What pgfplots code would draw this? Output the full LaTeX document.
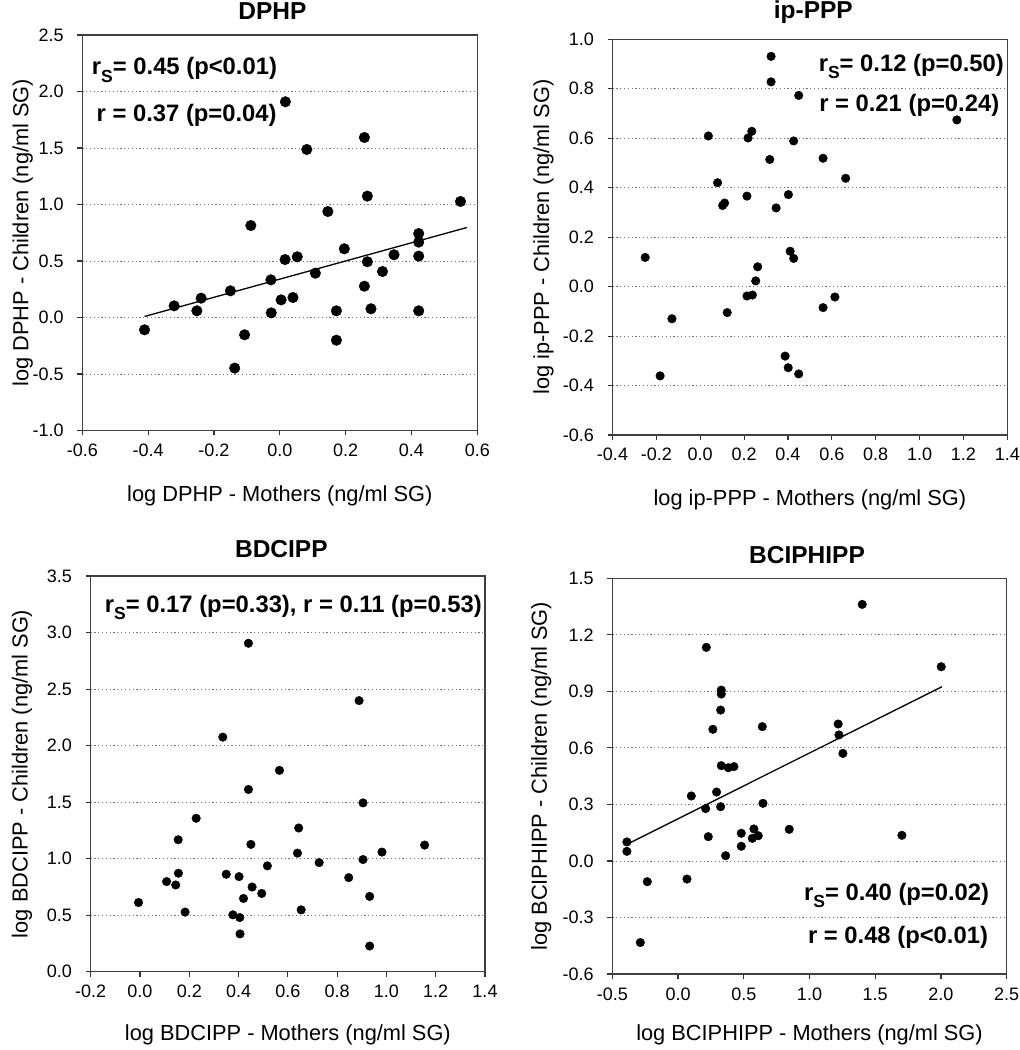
\documentclass[border=0pt]{standalone}
\usepackage{fontspec}
\setmainfont{Liberation Sans}
\usepackage{pgfplots}
\pgfplotsset{compat=1.18}
\newcommand{\rs}{r\raisebox{-0.3em}{\fontsize{17.5}{17.5}\selectfont S}}
\tikzset{ann/.style={font=\fontsize{23.8}{23.8}\selectfont\bfseries, inner sep=0pt}}
\pgfplotsset{
  every axis title shift=0pt,
  panel/.style={
    scale only axis, width=395pt, height=395.5pt, anchor=south west,
    axis line style={black!75, line width=1.2pt},
    tick align=outside, major tick length=5pt,
    tick style={black!80, line width=1.1pt},
    xtick pos=bottom, ytick pos=left,
    ymajorgrids, major grid style={black!55, line width=0.9pt, dash pattern=on 1.2pt off 2.6pt},
    /pgf/number format/assume math mode=true,
    /pgf/number format/.cd, fixed, fixed zerofill, precision=1, /pgfplots/.cd,
    tick label style={font=\fontsize{18}{18}\selectfont},
    xticklabel style={anchor=base, yshift=-21pt},
    yticklabel style={anchor=east, inner sep=0pt, xshift=-13.5pt},
    label style={font=\fontsize{21.8}{21.8}\selectfont},
    title style={font=\fontsize{24.5}{24.5}\selectfont\bfseries, anchor=base, yshift=0pt, inner sep=0pt},
    clip=false,
  },
  dots/.style={only marks, mark=*, mark size=#1, mark options={fill=black, draw=black}},
  fit/.style={no marks, black, line width=1.3pt},
}
\begin{document}
\begin{tikzpicture}
\useasboundingbox (0pt,0pt) rectangle (1020pt,1050pt);
% ---------- DPHP ----------
\begin{axis}[panel, at={(82.3pt,619.5pt)},
  xmin=-0.6, xmax=0.6, ymin=-1, ymax=2.5,
  xtick={-0.6,-0.4,...,0.61}, ytick={-1,-0.5,...,2.51},
  title={DPHP}, title style={at={(axis description cs:0.4815,1.040)}},
  xlabel={log DPHP - Mothers (ng/ml SG)},
  xlabel style={at={(axis description cs:0.5,-0.179)}, anchor=base},
  ylabel={log DPHP - Children (ng/ml SG)},
  ylabel style={at={(axis description cs:-0.151,0.5)}, anchor=center},
]
\addplot[dots=5.3pt] coordinates {
(-0.411,-0.109) (-0.321,0.103) (-0.252,0.059) (-0.239,0.171) (-0.150,0.236)
(-0.088,0.814) (-0.107,-0.153) (-0.137,-0.448) (-0.027,0.333) (-0.026,0.041)
(0.004,0.156) (0.016,0.513) (0.017,1.909) (0.040,0.177) (0.053,0.537)
(0.082,1.487) (0.108,0.392) (0.146,0.938) (0.172,0.059) (0.172,-0.201)
(0.196,0.608) (0.257,1.593) (0.257,0.277) (0.266,1.074) (0.266,0.493)
(0.277,0.077) (0.312,0.407) (0.347,0.555) (0.422,0.743) (0.422,0.667)
(0.422,0.543) (0.422,0.059) (0.549,1.027)
};
\addplot[fit] coordinates {(-0.411,0.009) (0.568,0.796)};
\node[ann, anchor=base west] at (axis description cs:0.024,0.899) {\rs= 0.45 (p<0.01)};
\node[ann, anchor=base west] at (axis description cs:0.036,0.781) {r = 0.37 (p=0.04)};
\end{axis}
% ---------- ip-PPP ----------
\begin{axis}[panel, at={(612.5pt,615pt)}, width=394.8pt, height=395.7pt,
  xmin=-0.4, xmax=1.4, ymin=-0.6, ymax=1.0,
  xtick={-0.4,-0.2,...,1.41}, ytick={-0.6,-0.4,...,1.01},
  title={ip-PPP}, title style={at={(axis description cs:0.5086,1.053)}},
  xlabel={log ip-PPP - Mothers (ng/ml SG)},
  xlabel style={at={(axis description cs:0.5,-0.177)}, anchor=base},
  ylabel={log ip-PPP - Children (ng/ml SG)},
  ylabel style={at={(axis description cs:-0.175,0.5)}, anchor=center},
]
\addplot[dots=4.3pt] coordinates {
(-0.251,0.118) (-0.183,-0.361) (-0.129,-0.130) (0.037,0.609) (0.079,0.420)
(0.102,0.328) (0.111,0.338) (0.123,-0.105) (0.213,0.366) (0.218,0.601)
(0.235,0.628) (0.213,-0.038) (0.238,-0.034) (0.253,0.023) (0.262,0.080)
(0.317,0.514) (0.323,0.931) (0.323,0.828) (0.346,0.318) (0.387,-0.281)
(0.401,-0.328) (0.402,0.372) (0.410,0.143) (0.426,0.589) (0.426,0.114)
(0.449,-0.353) (0.449,0.773) (0.560,0.519) (0.560,-0.085) (0.614,-0.042)
(0.663,0.438) (1.170,0.674)
};
\node[ann, anchor=base east] at (axis description cs:0.9916,0.918) {\rs= 0.12 (p=0.50)};
\node[ann, anchor=base east] at (axis description cs:0.98,0.817) {r = 0.21 (p=0.24)};
\end{axis}
% ---------- BDCIPP ----------
\begin{axis}[panel, at={(90.7pt,78.3pt)}, width=394.3pt, height=395.7pt,
  xmin=-0.2, xmax=1.4, ymin=0, ymax=3.5,
  xtick={-0.2,0,...,1.41}, ytick={0,0.5,...,3.51},
  title={BDCIPP}, title style={at={(axis description cs:0.4836,1.047)}},
  xlabel={log BDCIPP - Mothers (ng/ml SG)},
  xlabel style={at={(axis description cs:0.5,-0.173)}, anchor=base},
  ylabel={log BDCIPP - Children (ng/ml SG)},
  ylabel style={at={(axis description cs:-0.174,0.5)}, anchor=center},
]
\addplot[dots=4.3pt] coordinates {
(-0.006,0.612) (0.108,0.797) (0.145,0.767) (0.156,0.871) (0.155,1.167)
(0.183,0.527) (0.228,1.357) (0.336,2.075) (0.350,0.862) (0.377,0.503)
(0.402,0.841) (0.405,0.479) (0.406,0.334) (0.420,0.648) (0.440,2.905)
(0.440,1.612) (0.450,1.126) (0.455,0.749) (0.494,0.692) (0.517,0.936)
(0.566,1.781) (0.639,1.049) (0.644,1.271) (0.654,0.547) (0.727,0.965)
(0.847,0.832) (0.889,2.398) (0.905,1.493) (0.905,0.992) (0.932,0.666)
(0.932,0.227) (0.982,1.058) (1.155,1.120)
};
\node[ann, anchor=base] at (axis description cs:0.514,0.907) {\rs= 0.17 (p=0.33), r = 0.11 (p=0.53)};
\end{axis}
% ---------- BCIPHIPP ----------
\begin{axis}[panel, at={(612.3pt,76pt)}, width=394.4pt, height=395.6pt,
  xmin=-0.5, xmax=2.5, ymin=-0.6, ymax=1.5,
  xtick={-0.5,0,...,2.51}, ytick={-0.6,-0.3,...,1.51},
  title={BCIPHIPP}, title style={at={(axis description cs:0.4937,1.038)}},
  xlabel={log BCIPHIPP - Mothers (ng/ml SG)},
  xlabel style={at={(axis description cs:0.5,-0.169)}, anchor=base},
  ylabel={log BCIPHIPP - Children (ng/ml SG)},
  ylabel style={at={(axis description cs:-0.18,0.5)}, anchor=center},
]
\addplot[dots=4.3pt] coordinates {
(-0.389,0.101) (-0.389,0.051) (-0.234,-0.110) (-0.287,-0.433) (0.068,-0.096)
(0.101,0.345) (0.215,1.134) (0.210,0.278) (0.230,0.129) (0.265,0.699)
(0.293,0.366) (0.324,0.288) (0.324,0.801) (0.329,0.907) (0.329,0.886)
(0.329,0.506) (0.362,0.028) (0.382,0.495) (0.425,0.501) (0.481,0.147)
(0.481,0.078) (0.565,0.120) (0.577,0.170) (0.610,0.134) (0.641,0.713)
(0.646,0.306) (0.846,0.168) (1.218,0.727) (1.224,0.669) (1.254,0.571)
(1.401,1.362) (1.703,0.136) (2.002,1.031)
};
\addplot[fit] coordinates {(-0.389,0.088) (2.007,0.925)};
\node[ann, anchor=base east] at (axis description cs:0.956,0.187) {\rs= 0.40 (p=0.02)};
\node[ann, anchor=base east] at (axis description cs:0.953,0.0776) {r = 0.48 (p<0.01)};
\end{axis}
\end{tikzpicture}
\end{document}
